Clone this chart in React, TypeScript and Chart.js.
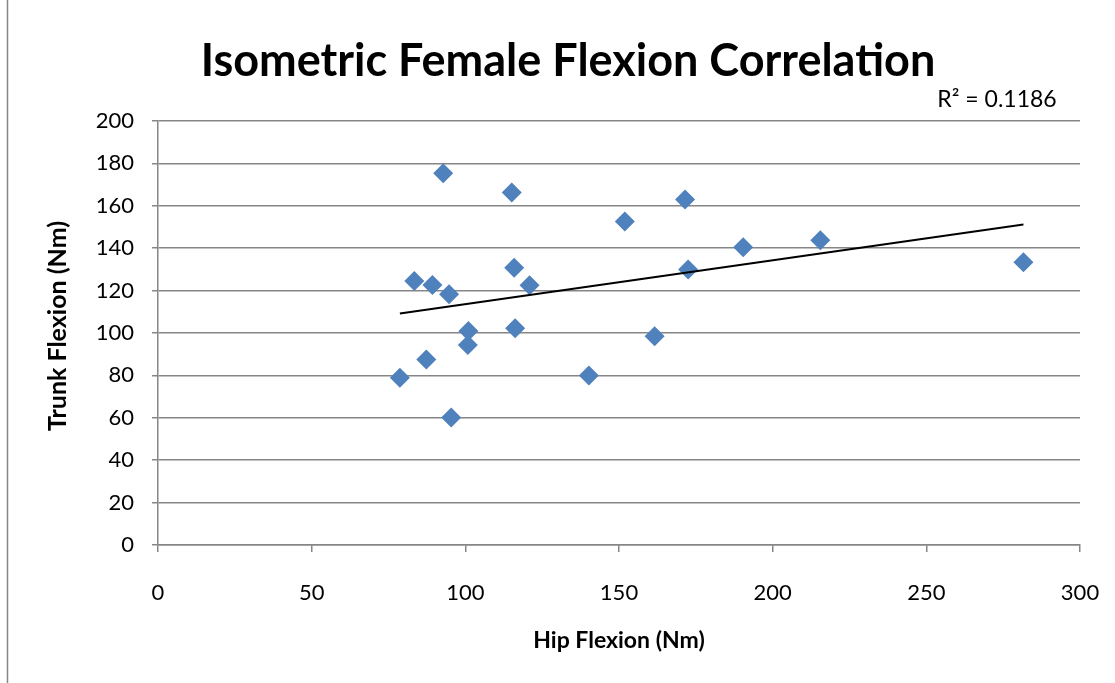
import React, { useEffect, useRef } from "react";
import { Chart, registerables } from "chart.js";

Chart.register(...registerables);

const chartTitle = "Isometric Female Flexion Correlation";
const xAxisTitle = "Hip Flexion (Nm)";
const yAxisTitle = "Trunk Flexion (Nm)";
const rSquaredLabel = "R² = 0.1186";

const hipFlexion = [
  78.7, 83.4, 87.3, 89.3, 92.8, 94.7, 95.4, 101.0, 100.8, 115.1, 115.9,
  116.2, 120.9, 140.2, 151.9, 161.6, 171.5, 172.5, 190.4, 215.5, 281.6,
];
const trunkFlexion = [
  78.9, 124.5, 87.5, 122.6, 175.3, 118.3, 60.2, 100.9, 94.3, 166.3, 130.8,
  102.2, 122.5, 80.0, 152.6, 98.5, 163.0, 130.0, 140.4, 143.7, 133.4,
];

const xMin = 0;
const xMax = 300;
const xStep = 50;
const yMin = 0;
const yMax = 200;
const yStep = 20;

const FONT = "Lato, 'Open Sans', sans-serif";
const GRID = "#868686";

function linearFit(xs: number[], ys: number[]) {
  const n = xs.length;
  const mx = xs.reduce((a, b) => a + b, 0) / n;
  const my = ys.reduce((a, b) => a + b, 0) / n;
  let sxy = 0;
  let sxx = 0;
  for (let i = 0; i < n; i++) {
    sxy += (xs[i] - mx) * (ys[i] - my);
    sxx += (xs[i] - mx) * (xs[i] - mx);
  }
  const slope = sxy / sxx;
  return { slope, intercept: my - slope * mx };
}

const textPlugin = {
  id: "textPlugin",
  afterDraw(chart: any) {
    const ctx = chart.ctx as CanvasRenderingContext2D;
    ctx.save();
    // outer chart border (left edge visible)
    ctx.strokeStyle = GRID;
    ctx.lineWidth = 1.5;
    ctx.beginPath();
    ctx.moveTo(7.5, 0);
    ctx.lineTo(7.5, chart.height);
    ctx.stroke();

    ctx.fillStyle = "#000";
    ctx.textAlign = "center";
    ctx.textBaseline = "alphabetic";
    ctx.font = `bold 45px ${FONT}`;
    ctx.fillText(chartTitle, 568, 76);

    ctx.font = `23px ${FONT}`;
    ctx.textBaseline = "middle";
    ctx.fillText(rSquaredLabel, 997, 100);

    ctx.font = `bold 23px ${FONT}`;
    ctx.fillText(xAxisTitle, 619, 641);

    ctx.translate(58, 326);
    ctx.rotate(-Math.PI / 2);
    ctx.font = `bold 25px ${FONT}`;
    ctx.fillText(yAxisTitle, 0, 0);
    ctx.restore();
  },
};

export default function App() {
  const ref = useRef<HTMLCanvasElement | null>(null);

  useEffect(() => {
    if (!ref.current) return;
    const fit = linearFit(hipFlexion, trunkFlexion);
    const xLo = Math.min(...hipFlexion);
    const xHi = Math.max(...hipFlexion);
    const trend = [
      { x: xLo, y: fit.intercept + fit.slope * xLo },
      { x: xHi, y: fit.intercept + fit.slope * xHi },
    ];
    const points = hipFlexion.map((x, i) => ({ x, y: trunkFlexion[i] }));

    const chart = new Chart(ref.current, {
      type: "scatter",
      data: {
        datasets: [
          {
            type: "line",
            label: "Linear",
            data: trend,
            borderColor: "#000",
            borderWidth: 2,
            pointRadius: 0,
            fill: false,
            showLine: true,
          } as any,
          {
            label: "Trunk vs Hip",
            data: points,
            pointStyle: "rectRot",
            pointRadius: 10,
            pointHoverRadius: 10,
            backgroundColor: "#4F81BD",
            borderColor: "#4F81BD",
            borderWidth: 0,
          },
        ],
      },
      options: {
        responsive: false,
        animation: false,
        layout: { padding: { left: 10, right: 35, top: 121, bottom: 10 } },
        plugins: {
          legend: { display: false },
          title: { display: false },
          tooltip: { enabled: false },
        },
        scales: {
          x: {
            type: "linear",
            min: xMin,
            max: xMax,
            afterFit: (s: any) => {
              s.height = 128;
              s.paddingLeft = 0;
              s.paddingRight = 0;
            },
            ticks: {
              stepSize: xStep,
              color: "#000",
              font: { family: FONT, size: 22 },
              padding: 28,
              maxRotation: 0,
            },
            grid: {
              drawOnChartArea: false,
              drawTicks: true,
              tickLength: 7,
              color: GRID,
              lineWidth: 1.5,
            },
            border: { display: true, color: GRID, width: 1.5 },
          },
          y: {
            type: "linear",
            min: yMin,
            max: yMax,
            afterFit: (s: any) => {
              s.width = 148;
              s.paddingTop = 0;
              s.paddingBottom = 0;
            },
            ticks: {
              stepSize: yStep,
              color: "#000",
              font: { family: FONT, size: 22 },
              padding: 18,
            },
            grid: {
              drawOnChartArea: true,
              drawTicks: true,
              tickLength: 6,
              color: GRID,
              lineWidth: 1.5,
            },
            border: { display: true, color: GRID, width: 1.5 },
          },
        },
      },
      plugins: [textPlugin],
    } as any);

    return () => chart.destroy();
  }, []);

  return (
    <div style={{ position: "absolute", left: 0, top: 0, width: 1115, height: 683, background: "#fff" }}>
      <canvas ref={ref} width={1115} height={683} />
    </div>
  );
}
